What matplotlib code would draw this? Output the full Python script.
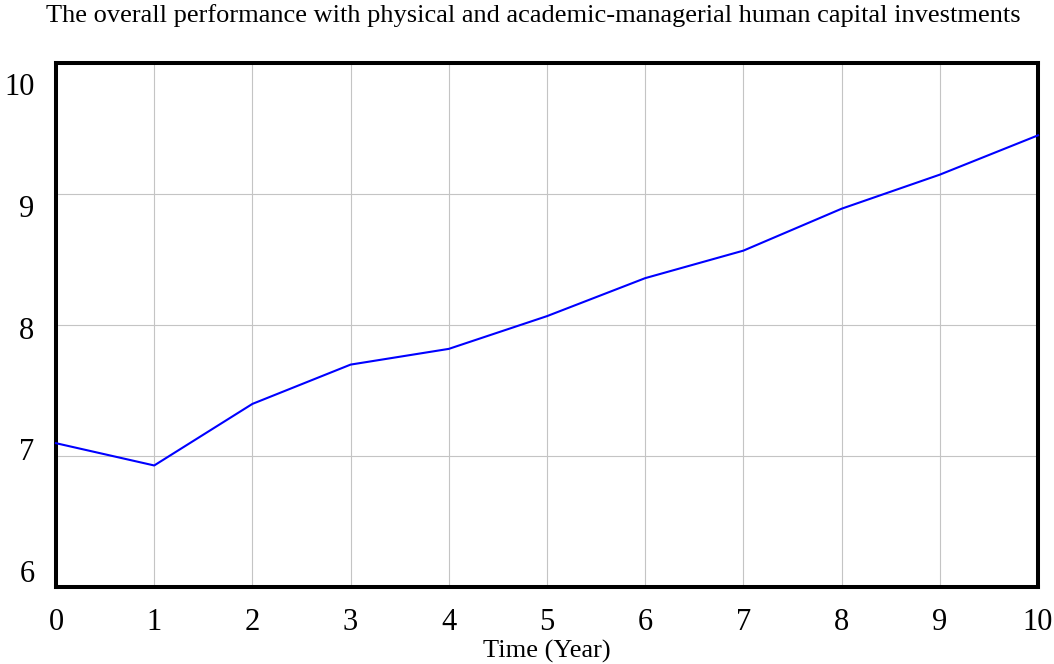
import matplotlib
matplotlib.use("Agg")
import matplotlib.pyplot as plt
import numpy as np

# values
years = [0, 1, 2, 3, 4, 5, 6, 7, 8, 9, 10]
performance = [7.10, 6.93, 7.40, 7.70, 7.82, 8.07, 8.36, 8.57, 8.89, 9.15, 9.45]
y_ticks = [6, 7, 8, 9, 10]
title = "The overall performance with physical and academic-managerial human capital investments"
x_label = "Time (Year)"

plt.rcParams['font.family'] = ['Liberation Serif', 'DejaVu Serif']

fig = plt.figure(figsize=(10.54, 6.64), dpi=100)
ax = fig.add_axes([56 / 1054, 1 - 587.3 / 664, 982 / 1054, 524 / 664])

ax.plot(years, performance, color='#0000ff', lw=1.5, zorder=3, clip_on=False)

ax.set_xlim(0, 10)
ax.set_ylim(6, 10)
ax.set_xticks(years)
ax.set_yticks(y_ticks)
ax.grid(True, color='#c4c4c4', lw=0.8)
ax.tick_params(axis='x', length=0, labelsize=22, pad=15)
ax.tick_params(axis='y', length=0, labelleft=False)
for s in ax.spines.values():
    s.set_linewidth(2.9)

# y labels are spread evenly a bit inside the frame (Vensim style)
pos = np.linspace(0.0101, 0.9395, len(y_ticks))
for p, v in zip(pos, y_ticks):
    ax.text(-0.022, p, str(v), transform=ax.transAxes, ha='right',
            va='baseline', fontsize=22)

fig.text(547 / 1054, 1 - 651 / 664, x_label, ha='center', va='center', fontsize=19)
fig.text(533 / 1054, 1 - 16 / 664, title, ha='center', va='center', fontsize=19)

fig.savefig("out.png", dpi=100)
